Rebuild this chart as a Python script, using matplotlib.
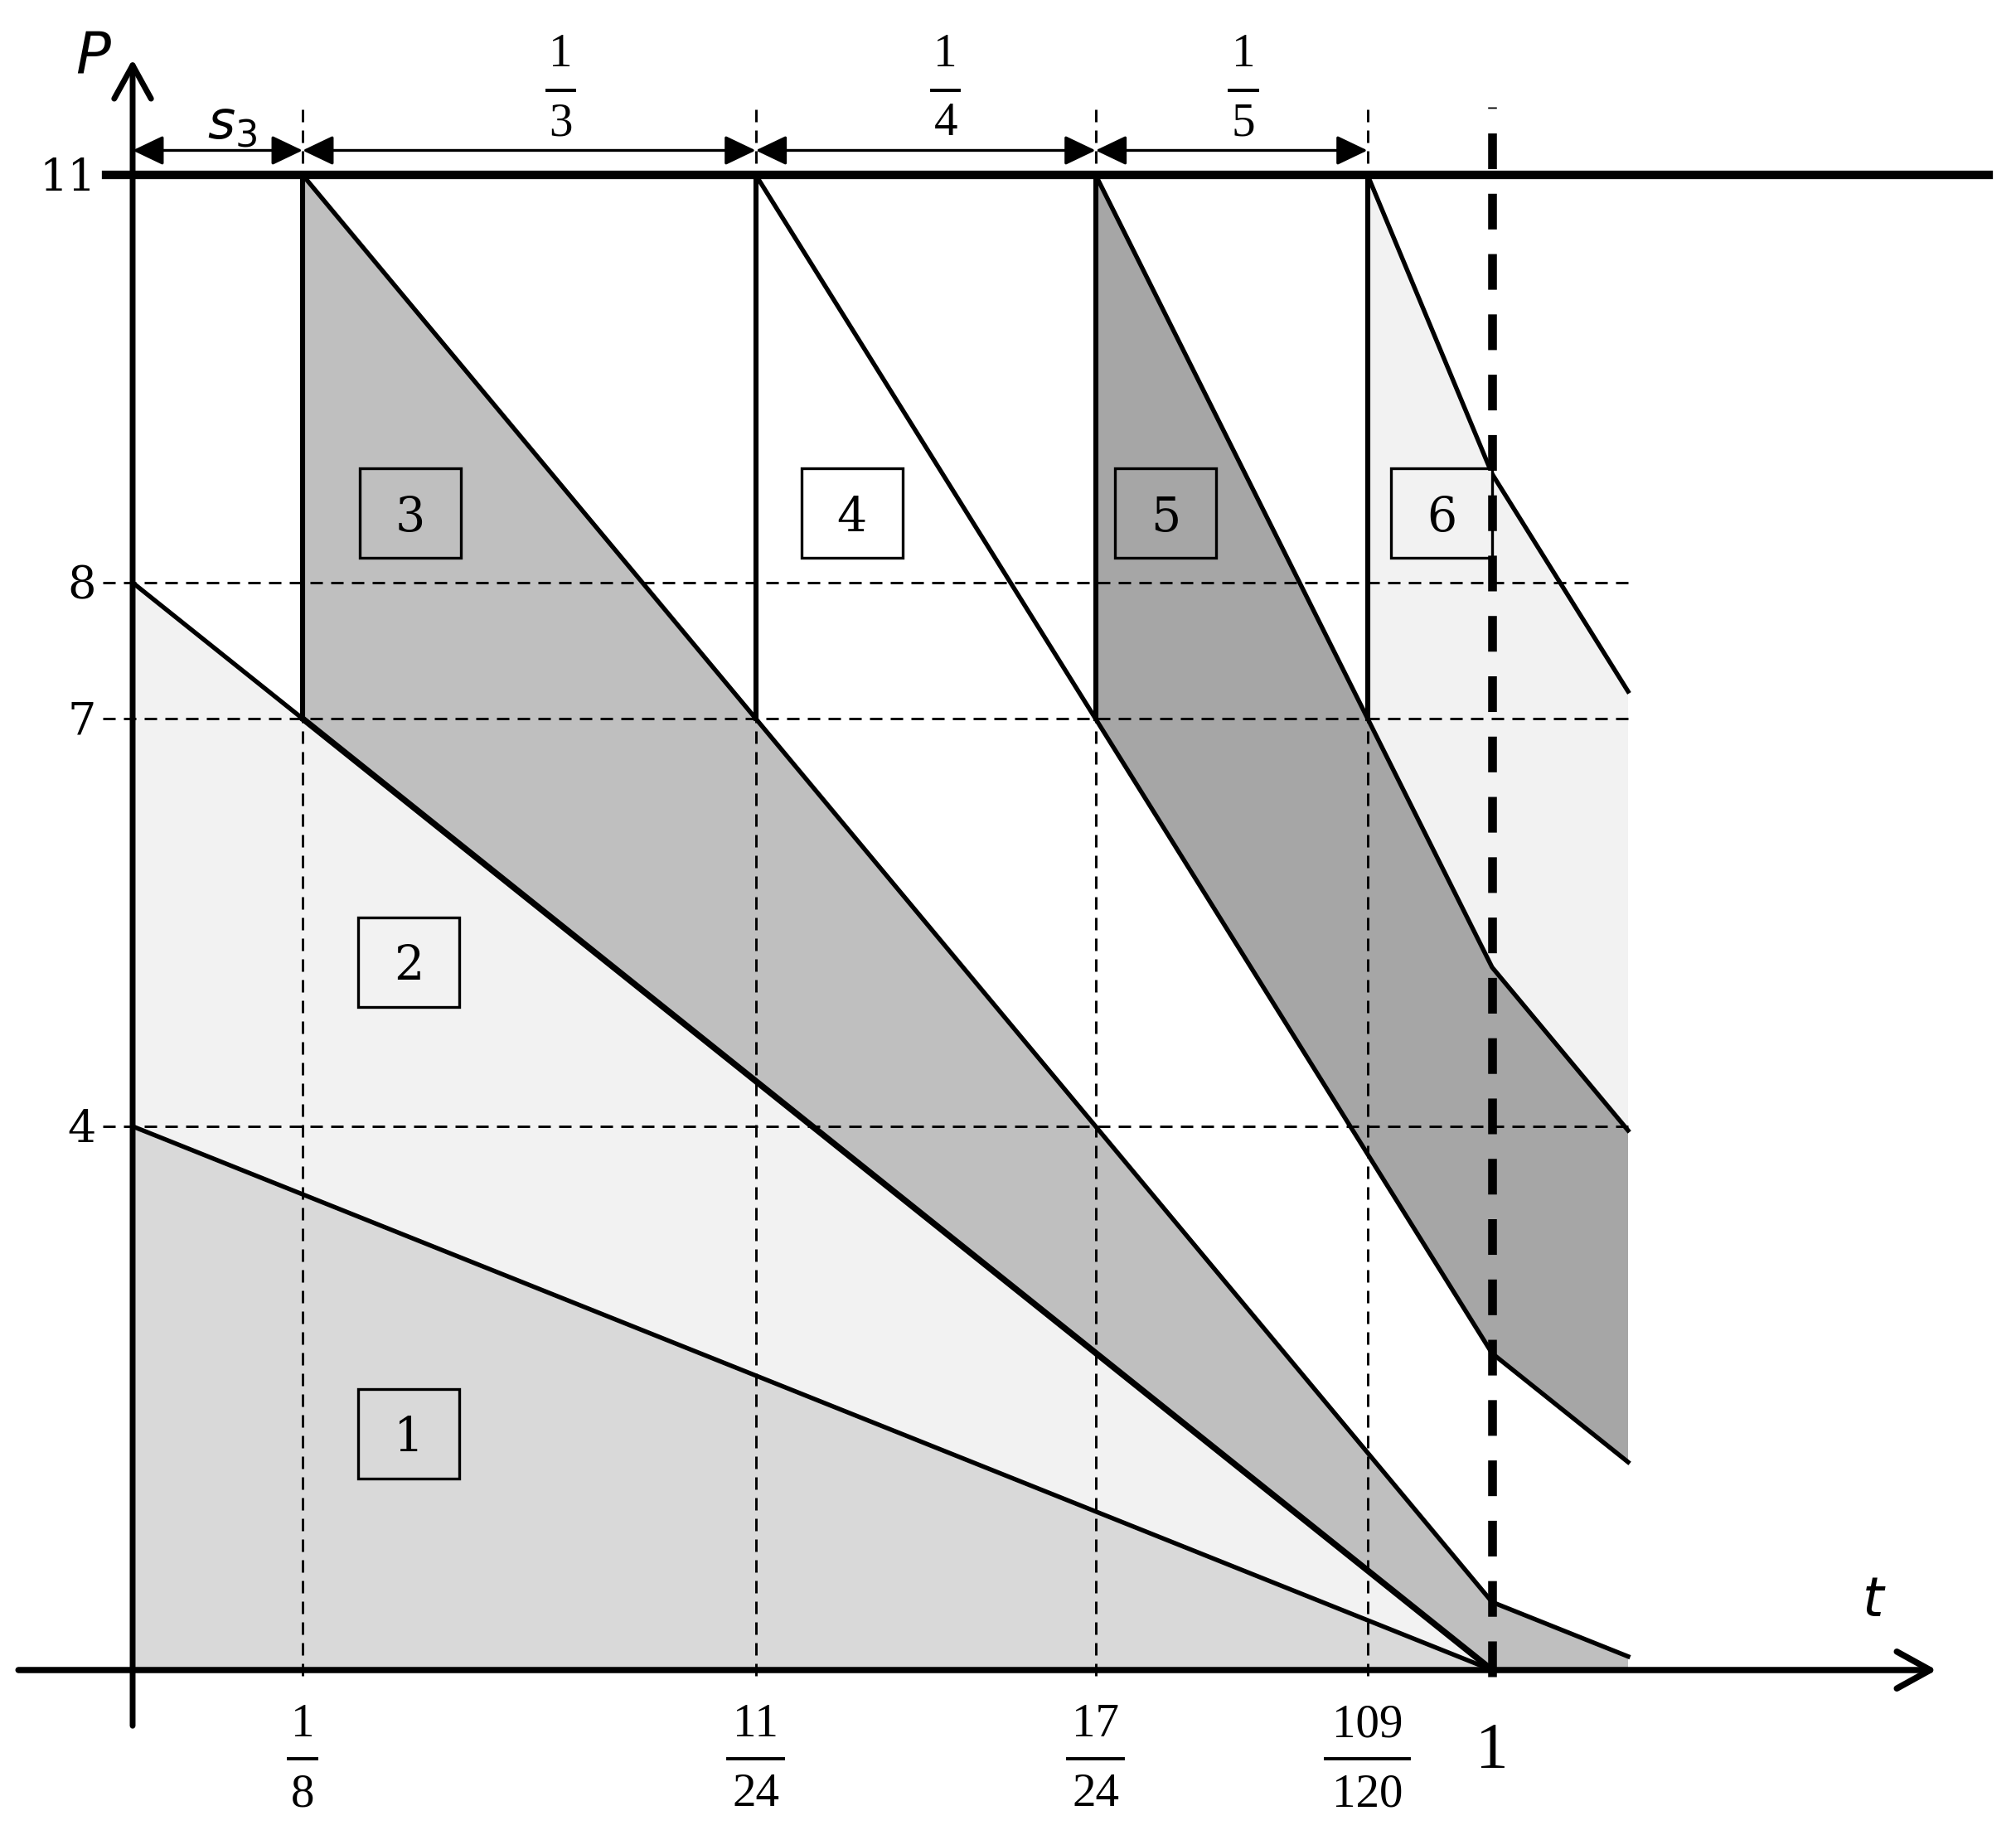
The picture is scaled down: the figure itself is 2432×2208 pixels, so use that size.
import numpy as np
import matplotlib.pyplot as plt
from matplotlib.patches import Rectangle

plt.rcParams['lines.scale_dashes'] = False
plt.rcParams['mathtext.fontset'] = 'dejavusans'

# break points (t, P) of the six power lines
line_t = [[0, 1], [0, 1], [1/8, 1, 1.1], [11/24, 1, 1.1], [17/24, 1, 1.1], [109/120, 1, 1.1]]
line_p = [[4, 0], [8, 0], [11, 0.5, 0.1], [11, 2.33, 1.53], [11, 5.17, 3.97], [11, 8.8, 7.2]]

region_colors = ['#d9d9d9', '#f2f2f2', '#bfbfbf', '#ffffff', '#a6a6a6', '#f2f2f2']
region_labels = ['1', '2', '3', '4', '5', '6']
label_t = [0.203, 0.203, 0.204, 0.529, 0.760, 0.963]
label_p = [1.74, 5.21, 8.51, 8.51, 8.51, 8.51]

p_ticks = [4, 7, 8, 11]
p_dashed = [4, 7, 8]
p_top = 11
t_marks = [1/8, 11/24, 17/24, 109/120]
t_num = ['1', '11', '17', '109']
t_den = ['8', '24', '24', '120']
t_end = 1.1

gap_num = ['1', '1', '1']
gap_den = ['3', '4', '5']
gap_label_t = [0.315, 0.598, 0.817]

fig = plt.figure(figsize=(24.32, 22.08), dpi=100)
ax = fig.add_axes([0, 0, 1, 1])
ax.set_xlim(-160 / 1640, (2432 - 160) / 1640)
ax.set_ylim(-(2208 - 2015) / 164, 2015 / 164)
ax.axis('off')

# shaded regions: region k lies between line k and line k-1 (or the t axis)
for k in range(6):
    ts, ps = line_t[k], line_p[k]
    t0 = ts[0]
    if k == 0:
        lt, lp = [ts[0], ts[-1]], [0, 0]
    else:
        lt, lp = line_t[k - 1], line_p[k - 1]
    low = lambda t, lt=lt, lp=lp: float(np.interp(t, lt, lp, right=0))
    grid = sorted(set([t0] + [x for x in lt if t0 < x < ts[-1]] + [ts[-1]]))
    upper = [(t0, low(t0))] + list(zip(ts, ps))
    lower = [(x, low(x)) for x in grid][::-1]
    poly = np.array(upper + lower)
    ax.fill(poly[:, 0], poly[:, 1], color=region_colors[k], lw=0, zorder=1)
    if k >= 2:
        ax.plot([t0, t0], [low(t0), p_top], color='black', lw=4.4, zorder=3)

# dashed guides
thin = (0, (10.8, 7.2))
for p in p_dashed:
    ax.plot([-0.022, t_end], [p, p], color='black', lw=2.1, ls=thin, zorder=2)
for t in t_marks:
    ax.plot([t, t], [-0.04, 11.54], color='black', lw=2.1, ls=thin, zorder=2)

# power lines
for k in range(6):
    ax.plot(line_t[k], line_p[k], color='black', lw=3.9, zorder=3)
seg = np.interp([1/8, 1], line_t[1], line_p[1])
ax.plot([1/8, 1], seg, color='black', lw=5.4, zorder=3)

ax.plot([-0.0195, 1.365], [p_top, p_top], color='black', lw=7.4, zorder=3)

# axes with open arrow heads
ax.annotate('', xy=(1.327, 0), xytext=(-0.084, 0),
            arrowprops=dict(arrowstyle='->, head_length=29, head_width=16', mutation_scale=1,
                            lw=5.4, color='black', shrinkA=0, shrinkB=0), zorder=4)
ax.annotate('', xy=(0, 11.85), xytext=(0, -0.41),
            arrowprops=dict(arrowstyle='->, head_length=29, head_width=16', mutation_scale=1,
                            lw=5.0, color='black', shrinkA=0, shrinkB=0), zorder=4)

# interval arrows along the top
edges = [0] + t_marks
for a, b in zip(edges[:-1], edges[1:]):
    ax.annotate('', xy=(b, 11.18), xytext=(a, 11.18),
                arrowprops=dict(arrowstyle='<|-|>, head_length=23, head_width=11', mutation_scale=1,
                                lw=2.4, color='black', shrinkA=0, shrinkB=0), zorder=4)

# t = 1 bold dashed line
ax.plot([1, 1], [-0.05, 11.5], color='black', lw=7.6, ls=(0, (31, 21.4)), zorder=6)

# job number boxes
bw, bh = 0.0744, 0.658
for lab, tc, pc, c in zip(region_labels, label_t, label_p, region_colors):
    ax.add_patch(Rectangle((tc - bw / 2, pc - bh / 2), bw, bh, fc=c, ec='black', lw=2.4, zorder=5))
    ax.text(tc, pc - 0.13, lab, ha='center', va='baseline', fontsize=41, family='DejaVu Serif', zorder=6)


def frac(x, y_num, y_bar, y_den, num, den, size=41):
    ax.text(x, y_num, num, ha='center', va='baseline', fontsize=size, family='Liberation Serif')
    ax.text(x, y_den, den, ha='center', va='baseline', fontsize=size, family='Liberation Serif')
    half = 0.0102 * max(len(num), len(den))
    ax.plot([x - half, x + half], [y_bar, y_bar], color='black', lw=2.8)


for t, n, d in zip(t_marks, t_num, t_den):
    frac(t, -0.49, -0.65, -1.0, n, d)
for t, n, d in zip(gap_label_t, gap_num, gap_den):
    frac(t, 11.80, 11.62, 11.29, n, d)

ax.text(1.0, -0.713, '1', ha='center', va='baseline', fontsize=57, family='Liberation Serif')

for p in p_ticks:
    ax.text(-0.027, p - 0.12, str(p), ha='right', va='baseline', fontsize=39, family='DejaVu Serif')

ax.text(-0.029, 11.75, 'P', ha='center', va='baseline', fontsize=50, style='italic', family='DejaVu Sans')
ax.text(1.280, 0.396, 't', ha='center', va='baseline', fontsize=47, style='italic', family='DejaVu Sans')
ax.text(0.073, 11.27, r'$s_3$', ha='center', va='baseline', fontsize=46)

fig.savefig('out.png', dpi=100, facecolor='white')
